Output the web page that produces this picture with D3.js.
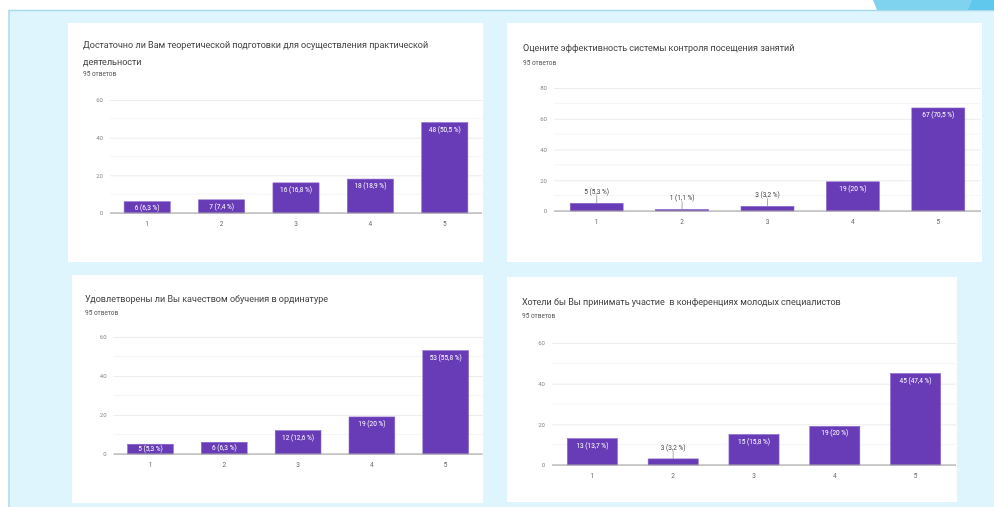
<!DOCTYPE html>
<html>
<head>
<meta charset="utf-8">
<script src="https://cdn.jsdelivr.net/npm/d3@7"></script>
<style>
  body { margin: 0; background: #fff; }
  svg { display: block; font-family: Roboto, Arial, sans-serif; }
</style>
</head>
<body>
<svg id="chart" width="994" height="507"></svg>
<script>
// data
const categories = ["1", "2", "3", "4", "5"];

const q1Title = ["Достаточно ли Вам теоретической подготовки для осуществления практической", "деятельности"];
const q1Values = [6, 7, 16, 18, 48];
const q1Labels = ["6 (6,3 %)", "7 (7,4 %)", "16 (16,8 %)", "18 (18,9 %)", "48 (50,5 %)"];
const q1Ticks = [0, 20, 40, 60];

const q2Title = ["Оцените эффективность системы контроля посещения занятий"];
const q2Values = [5, 1, 3, 19, 67];
const q2Labels = ["5 (5,3 %)", "1 (1,1 %)", "3 (3,2 %)", "19 (20 %)", "67 (70,5 %)"];
const q2Ticks = [0, 20, 40, 60, 80];

const q3Title = ["Удовлетворены ли Вы качеством обучения в ординатуре"];
const q3Values = [5, 6, 12, 19, 53];
const q3Labels = ["5 (5,3 %)", "6 (6,3 %)", "12 (12,6 %)", "19 (20 %)", "53 (55,8 %)"];
const q3Ticks = [0, 20, 40, 60];

const q4Title = ["Хотели бы Вы принимать участие  в конференциях молодых специалистов"];
const q4Values = [13, 3, 15, 19, 45];
const q4Labels = ["13 (13,7 %)", "3 (3,2 %)", "15 (15,8 %)", "19 (20 %)", "45 (47,4 %)"];
const q4Ticks = [0, 20, 40, 60];

const answers = "95 ответов";

// panel layout (pixel boxes on the slide)
const panels = [
  { title: q1Title, values: q1Values, labels: q1Labels, ticks: q1Ticks,
    box: [68, 23, 415, 239], tx: 83, ty: 45, sy: 74, left: 110, right: 482, y0: 213, yTop: 100 },
  { title: q2Title, values: q2Values, labels: q2Labels, ticks: q2Ticks,
    box: [507, 23, 475, 239], tx: 523, ty: 48, sy: 63, left: 554, right: 981, y0: 211, yTop: 88 },
  { title: q3Title, values: q3Values, labels: q3Labels, ticks: q3Ticks,
    box: [72, 275, 411, 228], tx: 85, ty: 299, sy: 313, left: 113.6, right: 482.6, y0: 454, yTop: 337 },
  { title: q4Title, values: q4Values, labels: q4Labels, ticks: q4Ticks,
    box: [507, 277, 450, 225], tx: 522, ty: 302, sy: 316, left: 552, right: 956, y0: 465, yTop: 343 }
];

const svg = d3.select("#chart");

// the reference is a soft screenshot
const blur = svg.append("defs").append("filter").attr("id", "soft");
blur.append("feGaussianBlur").attr("stdDeviation", 0.35);
const root = svg.append("g").attr("filter", "url(#soft)");

// slide background
root.append("rect").attr("x", 0).attr("y", 0).attr("width", 994).attr("height", 507).attr("fill", "#fff");
root.append("rect").attr("x", 9).attr("y", 10).attr("width", 990).attr("height", 500)
  .attr("fill", "#def5fd");
root.append("path").attr("d", "M9,510V10.5H994").attr("fill", "none")
  .attr("stroke", "#a9d9ea").attr("stroke-width", 1.5);

// decoration top right
root.append("path").attr("d", "M873,0H994V10H877Z").attr("fill", "#7fd3ef");
root.append("path").attr("d", "M972,0H994V10H968Z").attr("fill", "#5ec8ec");

panels.forEach(p => {
  const g = root.append("g");
  const [bx, by, bw, bh] = p.box;
  g.append("rect").attr("x", bx).attr("y", by).attr("width", bw).attr("height", bh).attr("fill", "#fff");

  // title + subtitle
  p.title.forEach((line, i) => {
    g.append("text").attr("x", p.tx).attr("y", p.ty + 3 + i * 17)
      .attr("font-size", 9).attr("fill", "#3c3c3c").style("white-space", "pre").text(line);
  });
  g.append("text").attr("x", p.tx).attr("y", p.sy + 2)
    .attr("font-size", 6.5).attr("fill", "#555").text(answers);

  const yMax = d3.max(p.ticks);
  const x = d3.scaleBand().domain(categories).range([p.left, p.right])
    .paddingInner(0.38).paddingOuter(0.19);
  const y = d3.scaleLinear().domain([0, yMax]).range([p.y0, p.yTop]);

  // minor grid
  g.append("g").selectAll("line").data(d3.range(10, yMax, 20)).join("line")
    .attr("x1", p.left).attr("x2", p.right)
    .attr("y1", d => y(d)).attr("y2", d => y(d))
    .attr("stroke", "#f5f5f5").attr("stroke-width", 1);

  // major grid + labels
  const yAxis = d3.axisLeft(y).tickValues(p.ticks).tickSize(-(p.right - p.left)).tickPadding(7);
  const ya = g.append("g").attr("transform", `translate(${p.left},0)`).call(yAxis);
  ya.select(".domain").remove();
  ya.selectAll(".tick line").attr("stroke", "#ececec");
  ya.selectAll(".tick text").attr("font-size", 6).attr("fill", "#888").attr("font-family", "Roboto, Arial, sans-serif");

  // x axis labels
  const xa = g.append("g").attr("transform", `translate(0,${p.y0})`)
    .call(d3.axisBottom(x).tickSize(0).tickPadding(8));
  xa.select(".domain").remove();
  xa.selectAll(".tick text").attr("font-size", 6.5).attr("fill", "#666").attr("font-family", "Roboto, Arial, sans-serif");

  const data = categories.map((c, i) => ({ c, v: p.values[i], label: p.labels[i] }));

  // bars
  g.append("g").selectAll("rect").data(data).join("rect")
    .attr("x", d => x(d.c)).attr("width", x.bandwidth())
    .attr("y", d => y(d.v)).attr("height", d => p.y0 - y(d.v))
    .attr("fill", "#673ab7").attr("stroke", "#8a66cc").attr("stroke-width", 0.6);

  // baseline
  g.append("line").attr("x1", p.left).attr("x2", p.right)
    .attr("y1", p.y0).attr("y2", p.y0).attr("stroke", "#9e9e9e").attr("stroke-width", 1.2);

  // value annotations: inside when the bar is tall enough, else above on a stem
  const inside = data.filter(d => p.y0 - y(d.v) > 9);
  const outside = data.filter(d => p.y0 - y(d.v) <= 9);

  g.append("g").selectAll("text").data(inside).join("text")
    .attr("x", d => x(d.c) + x.bandwidth() / 2)
    .attr("y", d => Math.min(y(d.v) + 9, (y(d.v) + p.y0) / 2 + 2.3))
    .attr("text-anchor", "middle").attr("font-size", 6.5).attr("fill", "#fff")
    .text(d => d.label);

  g.append("g").selectAll("line").data(outside).join("line")
    .attr("x1", d => x(d.c) + x.bandwidth() / 2).attr("x2", d => x(d.c) + x.bandwidth() / 2)
    .attr("y1", d => y(d.v) - 8).attr("y2", d => y(d.v))
    .attr("stroke", "#999").attr("stroke-width", 0.8);

  g.append("g").selectAll("text").data(outside).join("text")
    .attr("x", d => x(d.c) + x.bandwidth() / 2).attr("y", d => y(d.v) - 9)
    .attr("text-anchor", "middle").attr("font-size", 6.5).attr("fill", "#444")
    .text(d => d.label);
});
</script>
</body>
</html>
